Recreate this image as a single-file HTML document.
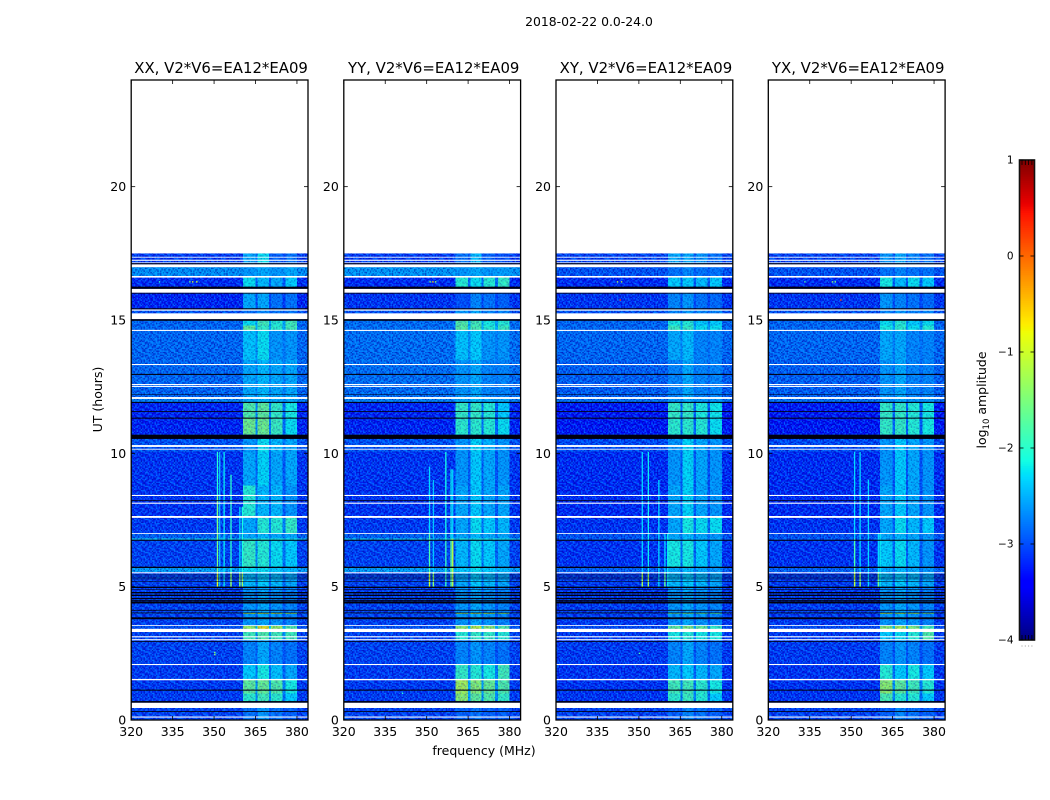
<!DOCTYPE html>
<html>
<head>
<meta charset="utf-8">
<title>2018-02-22 0.0-24.0</title>
<style>
html,body{margin:0;padding:0;background:#fff;}
body{width:1050px;height:800px;overflow:hidden;}
svg{display:block;}
text{font-family:"DejaVu Sans","Liberation Sans",sans-serif;fill:#000;}
</style>
</head>
<body>
<svg id="chart" width="1050" height="800" viewBox="0 0 1050 800" xmlns="http://www.w3.org/2000/svg">
<rect x="0" y="0" width="1050" height="800" fill="#fff"/>
<text x="589" y="26" font-size="12.400" text-anchor="middle">2018-02-22 0.0-24.0</text>
<text x="0" y="0" transform="translate(102 399.500) rotate(-90)" font-size="12.500" text-anchor="middle">UT (hours)</text>
<text x="484" y="755" font-size="12.500" text-anchor="middle">frequency (MHz)</text>
<text transform="translate(986 400) rotate(-90)" font-size="12.500" text-anchor="middle">log<tspan font-size="8.500" dy="3">10</tspan><tspan dy="-3"> amplitude</tspan></text>
<g id="panels"></g>
<g id="colorbar"></g>
</svg>
<script>
// ---- Categories and tick labels ----
const panelNames = ['XX', 'YY', 'XY', 'YX'];
const baselineLabel = 'V2*V6=EA12*EA09';
const xTicks = [320, 335, 350, 365, 380];
const yTicks = [0, 5, 10, 15, 20];
const colorbarTicks = [-4, -3, -2, -1, 0, 1];

// Frequency sub-band edges in MHz: background, band 1, gap, band 2, gap, band 3, gap, band 4, background
const freqEdges = [320, 360.5, 365, 365.8, 369.8, 370.6, 374.8, 375.8, 380, 384];

// Time epochs in hours (lower and upper edge of each row of the level tables)
const epochEdges = [0, 0.65, 1.0, 1.5, 2.1, 3.0, 3.42, 3.53, 3.98, 4.03, 5.0, 5.55, 5.7, 6.76, 6.8, 7.0, 7.6, 8.8, 10.05, 10.7, 11.3, 11.9, 12.1, 13.5, 14.6, 14.8, 15.0, 15.4, 16.2, 16.6, 17.0, 17.5];

// log10 amplitude per epoch: [background, band1, band2, band3, band4]
const levelsXX = [
  [-3.10, -2.80, -2.60, -2.80, -2.90],
  [-3.15, -1.95, -1.80, -1.95, -2.30],
  [-3.15, -1.60, -1.55, -1.70, -2.10],
  [-3.15, -2.30, -2.10, -2.35, -2.50],
  [-3.10, -2.70, -2.50, -2.70, -2.80],
  [-3.10, -1.80, -1.70, -1.80, -1.80],
  [-3.00, -1.20, -0.70, -1.20, -1.70],
  [-3.10, -2.60, -2.50, -2.60, -2.70],
  [-3.00, -1.10, -1.00, -1.10, -1.30],
  [-3.10, -2.60, -2.50, -2.60, -2.70],
  [-3.10, -2.40, -2.30, -2.40, -2.50],
  [-2.50, -2.20, -2.20, -2.30, -2.40],
  [-3.10, -1.90, -2.00, -2.20, -2.30],
  [-2.10, -2.00, -2.00, -2.00, -2.10],
  [-2.90, -2.50, -2.40, -2.50, -2.50],
  [-3.15, -2.50, -2.00, -2.00, -1.90],
  [-3.20, -2.00, -2.40, -2.40, -2.60],
  [-3.20, -2.50, -2.25, -2.50, -2.50],
  [-3.00, -2.60, -2.20, -2.40, -2.50],
  [-3.30, -1.50, -1.50, -1.85, -2.20],
  [-3.30, -1.70, -1.60, -1.90, -2.10],
  [-2.70, -2.50, -2.40, -2.50, -2.50],
  [-2.85, -2.50, -2.40, -2.50, -2.50],
  [-2.85, -2.35, -2.20, -2.60, -2.60],
  [-2.85, -1.60, -1.90, -1.95, -1.80],
  [-2.85, -2.20, -1.80, -2.00, -1.80],
  [-3.00, -2.80, -2.70, -2.80, -2.80],
  [-3.30, -2.50, -2.50, -2.80, -2.80],
  [-3.25, -2.20, -2.40, -2.50, -2.30],
  [-2.60, -2.60, -2.50, -2.60, -2.50],
  [-3.15, -2.50, -2.20, -2.90, -2.80]
];
const levelsYY = [
  [-3.10, -2.90, -2.80, -2.90, -2.90],
  [-3.15, -1.30, -1.60, -1.70, -1.90],
  [-3.15, -1.15, -1.35, -1.55, -1.70],
  [-3.15, -1.90, -2.00, -2.10, -1.80],
  [-3.10, -2.70, -2.60, -2.70, -2.80],
  [-3.10, -2.00, -1.90, -1.90, -2.00],
  [-3.00, -1.30, -1.00, -1.30, -1.70],
  [-3.10, -2.60, -2.50, -2.60, -2.70],
  [-3.00, -1.20, -1.10, -1.20, -1.40],
  [-3.10, -2.60, -2.50, -2.60, -2.70],
  [-3.10, -2.50, -2.30, -2.40, -2.50],
  [-2.50, -2.30, -2.20, -2.30, -2.40],
  [-3.10, -2.40, -2.20, -2.30, -2.50],
  [-2.10, -2.00, -2.00, -2.00, -2.10],
  [-2.90, -2.50, -2.40, -2.50, -2.50],
  [-3.15, -2.50, -2.20, -2.30, -2.40],
  [-3.20, -2.50, -2.30, -2.50, -2.50],
  [-3.20, -2.60, -2.30, -2.50, -2.60],
  [-3.00, -2.60, -2.25, -2.45, -2.60],
  [-3.30, -1.95, -1.95, -2.00, -2.20],
  [-3.30, -1.90, -1.90, -2.00, -2.30],
  [-2.70, -2.50, -2.40, -2.50, -2.50],
  [-2.80, -2.60, -2.50, -2.70, -2.70],
  [-2.80, -2.35, -2.30, -2.60, -2.60],
  [-2.80, -1.65, -1.75, -2.00, -1.85],
  [-2.80, -1.70, -1.80, -2.10, -2.00],
  [-3.00, -2.60, -2.50, -2.70, -2.70],
  [-3.20, -3.00, -2.70, -2.80, -2.90],
  [-3.25, -2.00, -2.20, -2.00, -1.90],
  [-2.55, -2.60, -2.50, -2.60, -2.55],
  [-3.15, -2.80, -2.40, -2.90, -3.00]
];
const levelsXY = [
  [-3.10, -2.90, -2.70, -2.80, -2.90],
  [-3.20, -1.95, -1.85, -2.00, -2.30],
  [-3.20, -1.80, -1.80, -1.95, -2.10],
  [-3.20, -2.40, -2.30, -2.40, -2.50],
  [-3.15, -2.70, -2.50, -2.70, -2.80],
  [-3.15, -2.10, -2.00, -2.10, -2.10],
  [-3.05, -1.60, -1.40, -1.60, -1.90],
  [-3.15, -2.60, -2.50, -2.60, -2.70],
  [-3.05, -1.70, -1.60, -1.70, -1.80],
  [-3.15, -2.60, -2.50, -2.60, -2.70],
  [-3.15, -2.40, -2.30, -2.40, -2.50],
  [-2.90, -2.50, -2.40, -2.50, -2.60],
  [-3.20, -2.10, -2.10, -2.30, -2.50],
  [-2.90, -2.50, -2.40, -2.50, -2.50],
  [-3.00, -2.50, -2.40, -2.50, -2.60],
  [-3.20, -2.50, -2.10, -2.20, -2.20],
  [-3.25, -2.50, -2.25, -2.50, -2.60],
  [-3.25, -2.60, -2.25, -2.50, -2.60],
  [-3.05, -2.60, -2.25, -2.50, -2.60],
  [-3.40, -1.95, -1.95, -2.00, -2.20],
  [-3.40, -1.90, -1.90, -2.05, -2.15],
  [-2.80, -2.60, -2.50, -2.60, -2.60],
  [-2.90, -2.70, -2.50, -2.70, -2.70],
  [-2.85, -2.50, -2.40, -2.70, -2.70],
  [-2.85, -1.85, -1.90, -2.20, -2.20],
  [-2.85, -2.10, -2.00, -2.30, -2.30],
  [-3.00, -2.70, -2.60, -2.70, -2.70],
  [-3.20, -2.70, -2.60, -2.80, -2.85],
  [-3.25, -2.30, -2.30, -2.40, -2.30],
  [-3.00, -2.80, -2.70, -2.80, -2.80],
  [-3.10, -2.50, -2.50, -2.60, -2.80]
];
const levelsYX = [
  [-3.10, -2.90, -2.70, -2.80, -2.90],
  [-3.20, -1.75, -2.00, -2.00, -2.30],
  [-3.20, -1.30, -1.60, -1.80, -2.00],
  [-3.20, -2.00, -2.30, -2.10, -2.30],
  [-3.15, -2.70, -2.60, -2.70, -2.80],
  [-3.15, -2.30, -2.20, -2.00, -1.70],
  [-3.05, -1.30, -1.10, -1.40, -1.80],
  [-3.15, -2.60, -2.50, -2.60, -2.70],
  [-3.05, -1.20, -1.20, -1.30, -1.50],
  [-3.15, -2.60, -2.50, -2.60, -2.70],
  [-3.15, -2.40, -2.30, -2.40, -2.50],
  [-2.90, -2.50, -2.40, -2.50, -2.60],
  [-3.20, -2.30, -2.20, -2.40, -2.60],
  [-2.90, -2.50, -2.40, -2.50, -2.50],
  [-3.00, -2.50, -2.40, -2.50, -2.60],
  [-3.20, -2.50, -2.20, -2.40, -2.30],
  [-3.25, -2.50, -2.30, -2.50, -2.60],
  [-3.25, -2.60, -2.30, -2.50, -2.60],
  [-3.05, -2.60, -2.30, -2.50, -2.60],
  [-3.40, -1.90, -1.90, -2.00, -2.10],
  [-3.40, -1.90, -1.90, -2.00, -2.10],
  [-2.80, -2.60, -2.50, -2.60, -2.60],
  [-2.90, -2.60, -2.50, -2.70, -2.70],
  [-2.85, -2.50, -2.50, -2.70, -2.70],
  [-2.85, -2.10, -1.95, -2.20, -2.00],
  [-2.85, -2.20, -2.00, -2.30, -2.20],
  [-3.00, -2.70, -2.60, -2.70, -2.70],
  [-3.20, -2.60, -2.70, -2.80, -2.85],
  [-3.25, -2.10, -2.40, -2.20, -2.30],
  [-3.00, -2.80, -2.70, -2.80, -2.80],
  [-3.10, -2.60, -2.50, -2.70, -2.80]
];

// Flagged (no data) rows, [hour start, hour end]
const whiteRows = [
  [17.34, 17.37], [17.22, 17.26], [17.13, 17.16], [16.98, 17.09], [16.59, 16.65],
  [16.02, 16.17], [15.35, 15.40], [15.03, 15.25], [14.59, 14.63], [13.31, 13.35],
  [12.56, 12.60], [12.49, 12.53], [12.04, 12.11], [10.24, 10.31], [10.14, 10.17],
  [8.40, 8.44], [8.11, 8.15], [7.58, 7.65], [6.98, 7.01], [5.50, 5.54],
  [3.53, 3.56], [3.30, 3.42], [3.10, 3.14], [2.99, 3.03], [2.06, 2.10],
  [1.49, 1.54], [0.45, 0.65], [0.09, 0.13]
];

// Near-zero amplitude rows, [hour start, hour end]
const blackRows = [
  [17.09, 17.13], [16.17, 16.25], [15.99, 16.02], [15.40, 15.44], [14.97, 15.03],
  [12.94, 12.98], [12.19, 12.21], [11.89, 11.93], [11.55, 11.58], [11.30, 11.34],
  [10.54, 10.70], [8.21, 8.24], [6.72, 6.76], [5.70, 5.75], [5.43, 5.45],
  [5.35, 5.37], [5.28, 5.30], [5.18, 5.20], [4.95, 5.00], [4.88, 4.90],
  [4.75, 4.80], [4.65, 4.70], [4.53, 4.58], [4.47, 4.50], [4.37, 4.45],
  [4.10, 4.13], [4.00, 4.03], [3.78, 3.85], [2.93, 2.96], [1.10, 1.14],
  [0.65, 0.71], [0.30, 0.33]
];

// Narrow interference lines: [freq MHz, hour start, hour end, level]
const rfiXX = [
  [351.0, 6.8, 10.05, -2.0], [351.0, 5.0, 8.4, -1.5], [351.0, 5.0, 5.55, -0.9], [351.8, 5.0, 10.05, -2.4],
  [353.4, 5.0, 10.05, -2.2], [355.9, 5.0, 9.2, -2.0], [355.9, 5.0, 5.55, -1.3], [359.1, 5.0, 8.0, -2.3],
  [360.0, 5.0, 8.0, -2.1], [359.1, 5.0, 5.55, -1.4], [360.0, 5.0, 5.55, -1.3]
];
const rfiYY = [
  [350.8, 7.0, 9.5, -2.3], [350.8, 5.0, 7.0, -1.8], [350.8, 5.0, 5.55, -1.0], [352.2, 5.0, 9.0, -2.4],
  [352.2, 5.0, 5.55, -1.4], [356.7, 6.8, 10.05, -2.1], [356.7, 5.0, 6.8, -1.9], [358.6, 5.0, 9.4, -2.2],
  [358.6, 5.0, 6.8, -1.6], [359.2, 5.0, 9.4, -2.3], [359.2, 5.0, 6.8, -1.1]
];
const rfiXY = [
  [351.0, 5.0, 10.05, -2.3], [351.0, 5.0, 5.55, -1.2], [353.2, 5.0, 10.05, -2.2], [353.2, 5.0, 5.55, -1.3],
  [357.0, 5.0, 9.0, -2.3], [359.2, 5.0, 7.0, -2.3], [360.2, 5.0, 7.0, -2.2], [359.2, 5.0, 5.55, -1.6]
];
const rfiYX = [
  [351.0, 5.0, 10.05, -2.3], [351.0, 5.0, 6.8, -1.8], [351.0, 5.0, 5.55, -1.1], [353.0, 5.0, 10.05, -2.3],
  [353.0, 5.0, 5.55, -1.3], [356.0, 5.0, 9.0, -2.3], [359.6, 5.0, 7.0, -2.3], [360.2, 5.0, 7.0, -2.2],
  [359.6, 5.0, 5.55, -1.6]
];

// Isolated bright samples: [freq MHz, hour, level]
const spotsXX = [[341.0, 16.43, -1.6], [342.0, 16.43, -1.0], [343.5, 16.43, -1.0], [350.0, 2.45, -1.4], [350.0, 2.53, -1.4], [330.0, 16.43, -2.0]];
const spotsYY = [[352.0, 16.43, -0.5], [351.0, 16.43, -1.4], [353.0, 16.43, -1.4], [341.0, 1.0, -2.0]];
const spotsXY = [[342.0, 16.43, -1.2], [343.5, 16.43, -1.2], [343.0, 15.75, 0.3], [350.0, 2.5, -1.8]];
const spotsYX = [[343.0, 16.43, -1.4], [344.0, 16.43, -1.4], [346.0, 15.75, 0.2], [333.0, 16.43, -1.8]];

// Fine texture tile read by eye from the noise floor (0 dark .. 9 bright)
const speckleTile = [
  '372948162739504826173958',
  '815036927481630975240618',
  '264791358026947138659274',
  '950382714695028461397140',
  '473619280537194825061783',
  '108527946381705296483926',
  '639174052896341758120547',
  '285960413729586047391862',
  '741328695014278639564017',
  '096452187360915482731695',
  '528713940682437106985324',
  '364089275941760328516079',
  '917635408127894563042781',
  '240896531476023917685342',
  '683157920358649271039586',
  '452701869234180756392410',
  '079364215897536028147693',
  '816290734105972364850127',
  '397548106263718490526834',
  '624013879540362185973061',
  '150782463917285649301758',
  '738926150684091327464295',
  '491357082736548910627183',
  '205641937018362754809346'
];

// ---- Geometry and scales ----
const SVGNS = 'http://www.w3.org/2000/svg';
const panelX = [131.2, 343.8, 556, 768.3];
const panelW = 176.8;
const plotTop = 80;
const plotBottom = 720;
const fMin = 320;
const fMax = 384;
const hMin = 0;
const hMax = 24;
const root = document.getElementById('chart');
const panelsG = document.getElementById('panels');
const colorbarG = document.getElementById('colorbar');

function xScale(px, f) { return px + (f - fMin) / (fMax - fMin) * panelW; }
function yScale(h) { return plotBottom - (h - hMin) / (hMax - hMin) * (plotBottom - plotTop); }
function clamp01(v) { return Math.max(0, Math.min(1, v)); }
function ramp(f, x0, x1, y0, y1) { return clamp01(y0 + (y1 - y0) * (f - x0) / (x1 - x0)); }
function jet(level) {
  const f = clamp01((level + 4) / 5);
  let r, g, b;
  if (f < 0.35) r = 0; else if (f < 0.66) r = ramp(f, 0.35, 0.66, 0, 1); else if (f < 0.89) r = 1; else r = ramp(f, 0.89, 1, 1, 0.5);
  if (f < 0.125) g = 0; else if (f < 0.375) g = ramp(f, 0.125, 0.375, 0, 1); else if (f < 0.64) g = 1; else if (f < 0.91) g = ramp(f, 0.64, 0.91, 1, 0); else g = 0;
  if (f < 0.11) b = ramp(f, 0, 0.11, 0.5, 1); else if (f < 0.34) b = 1; else if (f < 0.65) b = ramp(f, 0.34, 0.65, 1, 0); else b = 0;
  return 'rgb(' + Math.round(r * 255) + ',' + Math.round(g * 255) + ',' + Math.round(b * 255) + ')';
}
function mk(tag, attrs, parent) {
  const e = document.createElementNS(SVGNS, tag);
  for (const k in attrs) e.setAttribute(k, attrs[k]);
  parent.appendChild(e);
  return e;
}

// ---- Speckle pattern ----
const defs = mk('defs', {}, root);
const cellPitch = 1.38;
const pattern = mk('pattern', { id: 'speckle', patternUnits: 'userSpaceOnUse', x: 0, y: 0, width: cellPitch * 24, height: cellPitch * 24 }, defs);
speckleTile.forEach(function (rowText, rowIndex) {
  for (let c = 0; c < rowText.length; c++) {
    const d = Number(rowText[c]);
    const dark = d < 5;
    const cell = mk('rect', {
      x: c * cellPitch, y: rowIndex * cellPitch, width: cellPitch, height: cellPitch,
      fill: dark ? '#0000a0' : '#00a8ff',
      opacity: dark ? (5 - d) * 0.13 : (d - 4) * 0.12
    }, pattern);
    
    
  }
});

// ---- Panels ----
const panelLevels = [levelsXX, levelsYY, levelsXY, levelsYX];
const panelRfi = [rfiXX, rfiYY, rfiXY, rfiYX];
const panelSpots = [spotsXX, spotsYY, spotsXY, spotsYX];

function levelForSegment(row, s) {
  const bg = row[0];
  if (s === 0 || s === 8) return bg;
  if (s % 2 === 1) return row[(s + 1) / 2];
  return 0.35 * (row[s / 2] + row[s / 2 + 1]) / 2 + 0.65 * bg;
}

panelNames.forEach(function (name, p) {
  const px = panelX[p];
  const g = mk('g', {}, panelsG);
  
  

  const bgRect = mk('rect', { x: px, y: plotTop, width: panelW, height: plotBottom - plotTop, fill: '#fff' }, g);
  
  

  panelLevels[p].forEach(function (row, e) {
    for (let s = 0; s < freqEdges.length - 1; s++) {
      const x0 = xScale(px, freqEdges[s]);
      const x1 = xScale(px, freqEdges[s + 1]);
      const y1 = yScale(epochEdges[e]);
      const y0 = yScale(epochEdges[e + 1]);
      const cell = mk('rect', { x: x0, y: y0, width: x1 - x0, height: y1 - y0, fill: jet(levelForSegment(row, s)), 'shape-rendering': 'crispEdges' }, g);
      
      
    }
  });

  const bandStart = xScale(px, freqEdges[1]);
  const bandEnd = xScale(px, freqEdges[8]);
  const texTop = yScale(17.5);
  const texH = yScale(0) - yScale(17.5);
  const texLeft = mk('rect', { x: px, y: texTop, width: bandStart - px, height: texH, fill: 'url(#speckle)' }, g);
  
  
  const texBand = mk('rect', { x: bandStart, y: texTop, width: bandEnd - bandStart, height: texH, fill: 'url(#speckle)', opacity: 0.6 }, g);
  
  
  const texRight = mk('rect', { x: bandEnd, y: texTop, width: px + panelW - bandEnd, height: texH, fill: 'url(#speckle)' }, g);
  
  

  panelRfi[p].forEach(function (line) {
    const x0 = xScale(px, line[0]);
    const y0 = yScale(line[2]);
    const y1 = yScale(line[1]);
    const mark = mk('rect', { x: x0, y: y0, width: 1.3, height: y1 - y0, fill: jet(line[3]) }, g);
    
    
  });

  panelSpots[p].forEach(function (spot) {
    const mark = mk('rect', { x: xScale(px, spot[0]), y: yScale(spot[1]) - 0.7, width: 1.4, height: 1.4, fill: jet(spot[2]) }, g);
    
    
  });

  whiteRows.forEach(function (row) {
    const y0 = yScale(row[1]);
    const y1 = yScale(row[0]);
    const mark = mk('rect', { x: px, y: y0, width: panelW, height: y1 - y0, fill: '#fff' }, g);
    
    
  });
  blackRows.forEach(function (row) {
    const y0 = yScale(row[1]);
    const y1 = yScale(row[0]);
    const mark = mk('rect', { x: px, y: y0, width: panelW, height: y1 - y0, fill: '#00000e' }, g);
    
    
  });

  const frame = mk('rect', { x: px, y: plotTop, width: panelW, height: plotBottom - plotTop, fill: 'none', stroke: '#000', 'stroke-width': 1.3 }, g);
  
  

  const title = mk('text', { x: px + panelW / 2 + 1.5, y: 73, 'font-size': 14.9, 'text-anchor': 'middle' }, g);
  title.textContent = name + ', ' + baselineLabel;
  
  

  xTicks.forEach(function (t) {
    const x = xScale(px, t);
    const bottomTick = mk('line', { x1: x, x2: x, y1: plotBottom, y2: plotBottom - 4, stroke: '#000', 'stroke-width': 0.8 }, g);
    
    
    const topTick = mk('line', { x1: x, x2: x, y1: plotTop, y2: plotTop + 4, stroke: '#000', 'stroke-width': 0.8 }, g);
    
    
    const label = mk('text', { x: x, y: 736, 'font-size': 12.5, 'text-anchor': 'middle' }, g);
    label.textContent = t;
    
    
  });

  yTicks.forEach(function (t) {
    const y = yScale(t);
    const leftTick = mk('line', { x1: px, x2: px + 4, y1: y, y2: y, stroke: '#000', 'stroke-width': 0.8 }, g);
    
    
    const rightTick = mk('line', { x1: px + panelW, x2: px + panelW - 4, y1: y, y2: y, stroke: '#000', 'stroke-width': 0.8 }, g);
    
    
    const label = mk('text', { x: px - 5, y: y + 4.5, 'font-size': 12.5, 'text-anchor': 'end' }, g);
    label.textContent = t;
    
    
  });
});

// ---- Colorbar ----
const cbX = 1019.5;
const cbW = 15;
const cbTop = 160;
const cbBottom = 640;
const cbMin = -4;
const cbMax = 1;
const minorOffsets = [2.5, 5.8, 9.1, 12.4];
function cbY(v) { return cbBottom - (v - cbMin) / (cbMax - cbMin) * (cbBottom - cbTop); }

for (let i = 0; i < 256; i++) {
  const v0 = cbMin + (cbMax - cbMin) * i / 256;
  const v1 = cbMin + (cbMax - cbMin) * (i + 1) / 256;
  const swatch = mk('rect', { x: cbX, y: cbY(v1), width: cbW, height: cbY(v0) - cbY(v1) + 0.4, fill: jet((v0 + v1) / 2) }, colorbarG);
  
  
}
const cbFrame = mk('rect', { x: cbX, y: cbTop, width: cbW, height: cbBottom - cbTop, fill: 'none', stroke: '#111', 'stroke-width': 1.6 }, colorbarG);



colorbarTicks.forEach(function (t) {
  const y = cbY(t);
  const label = mk('text', { x: 1013.5, y: y + 3.5, 'font-size': 10.5, 'text-anchor': 'end' }, colorbarG);
  label.textContent = String(t).replace('-', '\u2212');
  
  
  const leftTick = mk('line', { x1: cbX, x2: cbX + 4, y1: y, y2: y, stroke: '#000', 'stroke-width': 0.8 }, colorbarG);
  
  
  const rightTick = mk('line', { x1: cbX + cbW, x2: cbX + cbW - 4, y1: y, y2: y, stroke: '#000', 'stroke-width': 0.8 }, colorbarG);
  
  
});

minorOffsets.forEach(function (dx) {
  const topTick = mk('line', { x1: cbX + dx, x2: cbX + dx, y1: cbTop, y2: cbTop + 5, stroke: '#000', 'stroke-width': 0.8 }, colorbarG);
  
  
  const bottomTick = mk('line', { x1: cbX + dx, x2: cbX + dx, y1: cbBottom, y2: cbBottom - 5, stroke: '#000', 'stroke-width': 0.8 }, colorbarG);
  
  
  const dot = mk('rect', { x: cbX + dx - 0.5, y: 645.5, width: 1, height: 1, fill: '#999' }, colorbarG);
  
  
});
</script>
</body>
</html>
